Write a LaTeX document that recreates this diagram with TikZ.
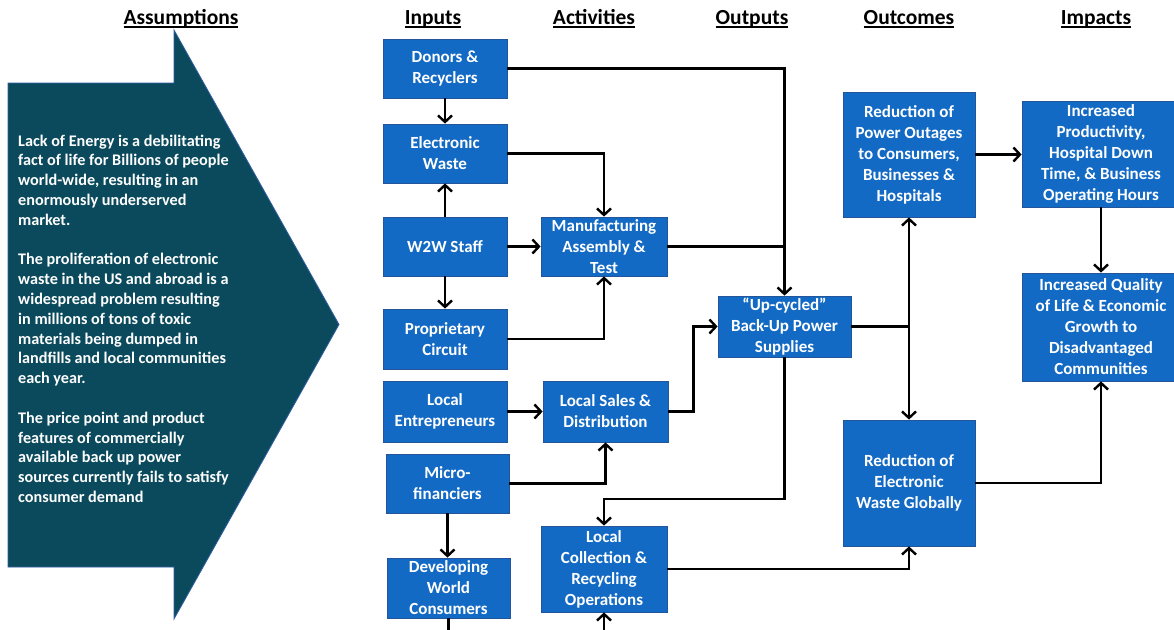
\documentclass[tikz,border=0pt]{standalone}
\usepackage{fontspec}
\setmainfont{Carlito}
\usetikzlibrary{arrows.meta}
\definecolor{boxblue}{RGB}{19,106,196}
\definecolor{boxedge}{RGB}{35,85,155}
\definecolor{arrteal}{RGB}{10,74,92}
\definecolor{arredge}{RGB}{50,95,165}
\newcommand\hdul[1]{\setbox0\hbox{#1}\rlap{\rule[-3.5pt]{\wd0}{1.6pt}}\box0}

\begin{document}
\begin{tikzpicture}[x=1pt, y=-1pt, >={Straight Barb[length=6.5pt,width=14pt]},
  box/.style={rectangle, draw=boxedge, line width=0.8pt, fill=boxblue, text=white, font=\fontsize{17}{21}\selectfont\bfseries, align=center, inner sep=0pt},
  hd/.style={font=\fontsize{21.5}{24}\selectfont\bfseries, anchor=base},
  link/.style={line width=2.4pt}]
\clip (0,0) rectangle (1174,629);
\fill[white] (0,0) rectangle (1174,629);

\node[hd] (ha) at (181,24) {\hdul{Assumptions}};
\node[hd] (hi) at (433,24) {\hdul{Inputs}};
\node[hd] (hc) at (594,24) {\hdul{Activities}};
\node[hd] (ho) at (752,24) {\hdul{Outputs}};
\node[hd] (hu) at (909,24) {\hdul{Outcomes}};
\node[hd] (hm) at (1096,24) {\hdul{Impacts}};

\draw[fill=arrteal, draw=arredge, line width=0.8pt] (8,83) -- (174,83) -- (174,30) -- (339,324.5) -- (174,619) -- (174,567) -- (8,567) -- cycle;
\node[anchor=north west, text=white, font=\fontsize{16.2}{19.8}\selectfont\bfseries, align=left, inner sep=0pt] (asm) at (18,134.5) {Lack of Energy is a debilitating\\fact of life for Billions of people\\world-wide, resulting in an\\enormously underserved\\market.\\[19.8pt]The proliferation of electronic\\waste in the US and abroad is a\\widespread problem resulting\\in millions of tons of toxic\\materials being dumped in\\landfills and local communities\\each year.\\[19.8pt]The price point and product\\features of commercially\\available back up power\\sources currently fails to satisfy\\consumer demand};

\node[box, minimum width=124pt, minimum height=59pt] (don) at (445,68.5) {Donors \&\\Recyclers};
\node[box, minimum width=124pt, minimum height=59pt] (ew) at (445,153.5) {Electronic\\Waste};
\node[box, minimum width=124pt, minimum height=59pt] (staff) at (445,246.5) {W2W Staff};
\node[box, minimum width=124pt, minimum height=60pt] (prop) at (445,339) {Proprietary\\Circuit};
\node[box, minimum width=124pt, minimum height=61pt] (ent) at (445,411.5) {Local\\Entrepreneurs};
\node[box, minimum width=123pt, minimum height=59pt] (mic) at (447.5,483.5) {Micro-\\financiers};
\node[box, minimum width=123pt, minimum height=60pt] (dev) at (448.5,588) {Developing\\World\\Consumers};
\node[box, minimum width=126pt, minimum height=59pt] (mfg) at (604,246.5) {Manufacturing\\Assembly \&\\Test};
\node[box, minimum width=125pt, minimum height=61pt] (sales) at (605.5,411.5) {Local Sales \&\\Distribution};
\node[box, minimum width=126pt, minimum height=86pt] (coll) at (604,569) {Local\\Collection \&\\Recycling\\Operations};
\node[box, minimum width=133pt, minimum height=61pt] (ups) at (784.5,326.5) {“Up-cycled”\\Back-Up Power\\Supplies};
\node[box, minimum width=132pt, minimum height=125pt] (rpo) at (909,154.5) {Reduction of\\Power Outages\\to Consumers,\\Businesses \&\\Hospitals};
\node[box, minimum width=132pt, minimum height=126pt] (rew) at (909,483) {Reduction of\\Electronic\\Waste Globally};
\node[box, minimum width=158pt, minimum height=106pt] (prod) at (1101,154) {Increased\\Productivity,\\Hospital Down\\Time, \& Business\\Operating Hours};
\node[box, minimum width=158pt, minimum height=108pt] (qol) at (1101,327) {Increased Quality\\of Life \& Economic\\Growth to\\Disadvantaged\\Communities};

\coordinate (jn) at (ups.east -| rpo);
\coordinate (devout) at (448.5,640);
\coordinate (collin) at (604,640);

\draw[link,->] (don) -| (ups);
\draw[link,->] (don) -- (ew);
\draw[link,->] (ew) -| (mfg);
\draw[link,->] (staff) -- (ew);
\draw[link,->] (staff) -- (mfg);
\draw[link,->] (staff) -- (prop);
\draw[link,->] (prop) -| (mfg);
\draw[link] (mfg.east) -- (mfg.east -| ups);
\draw[link,->] (ent) -- (sales);
\draw[link,->] (mic) -| (sales);
\draw[link,->] (mic.south) -- (mic.south |- dev.north);
\draw[link] (dev) -- (devout);
\draw[link,->] (collin) -- (coll);
\draw[link,->] (sales.east) -- ++(25,0) |- (ups.west);
\draw[link,->] (ups.south) -- ++(0,141.5) -| (coll.north);
\draw[link] (ups.east) -- (jn);
\draw[link,->] (jn) -- (rpo.south);
\draw[link,->] (jn) -- (rew.north);
\draw[link,->] (coll) -| (rew);
\draw[link,->] (rpo.east) -- (rpo.east -| prod.west);
\draw[link,->] (prod) -- (qol);
\draw[link,->] (rew) -| (qol);
\end{tikzpicture}
\end{document}
